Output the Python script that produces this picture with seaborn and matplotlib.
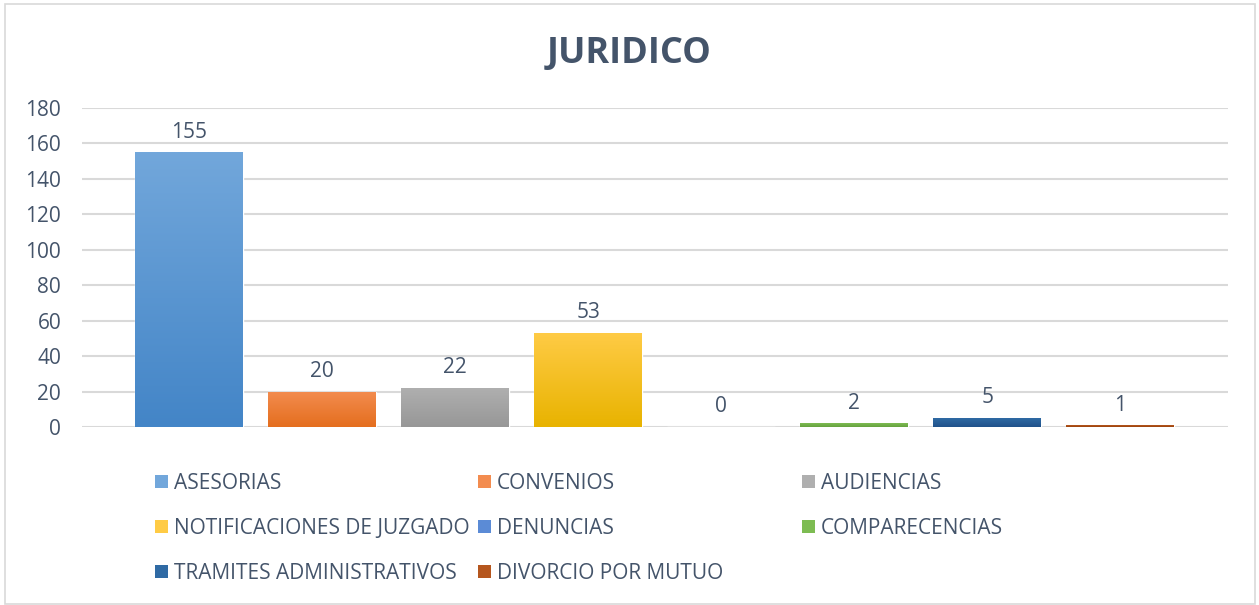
import numpy as np
import pandas as pd
import matplotlib
matplotlib.use("Agg")
import matplotlib.pyplot as plt
import matplotlib.colors as mcolors
from matplotlib.patches import Patch, Rectangle
import seaborn as sns

categories = ["ASESORIAS", "CONVENIOS", "AUDIENCIAS", "NOTIFICACIONES DE JUZGADO",
              "DENUNCIAS", "COMPARECENCIAS", "TRAMITES ADMINISTRATIVOS", "DIVORCIO POR MUTUO"]
values = [155, 20, 22, 53, 0, 2, 5, 1]
yticks = [0, 20, 40, 60, 80, 100, 120, 140, 160, 180]
title = "JURIDICO"

top_colors = ["#72A7DB", "#F38C4F", "#AFAFAF", "#FFCB45", "#5B8BD6", "#7DBC52", "#2F6AA4", "#B5561E"]
bottom_colors = ["#4385C7", "#E46E1E", "#979797", "#E8B300", "#3C68B8", "#66A13F", "#20528A", "#9B430D"]

sns.set_theme(style="white")
plt.rcParams["font.family"] = ["Open Sans", "DejaVu Sans"]
text_color = "#44546A"

df = pd.DataFrame({"cat": categories, "val": values})

fig = plt.figure(figsize=(12.59, 6.05), dpi=100)
ax = fig.add_axes([82 / 1259, 1 - 427 / 605, (1228 - 82) / 1259, (427 - 108) / 605])

palette = dict(zip(categories, bottom_colors))
sns.barplot(data=df, x="cat", y="val", hue="cat", order=categories, hue_order=categories,
            palette=palette, dodge=False, width=0.81, legend=False, ax=ax, saturation=1)

ax.set_xticks([])
ax.set_xlabel("")
ax.set_ylabel("")
for s in ax.spines.values():
    s.set_visible(False)
ax.yaxis.grid(True, color="#D9D9D9", linewidth=1.5)
ax.set_axisbelow(True)
ax.tick_params(axis="y", labelsize=15, colors=text_color, pad=15, length=0)

# gradient fills clipped to bars
grad = np.linspace(0, 1, 256).reshape(-1, 1)
for cont, tc, bc in zip(ax.containers, top_colors, bottom_colors):
    cmap = mcolors.LinearSegmentedColormap.from_list("g", [bc, tc])
    for p in cont.patches:
        x0, y0 = p.get_x(), p.get_y()
        w, h = p.get_width(), p.get_height()
        if h <= 0:
            continue
        im = ax.imshow(grad, cmap=cmap, origin="lower", aspect="auto",
                       extent=(x0, x0 + w, y0, y0 + h), zorder=p.get_zorder() + 0.1)
        im.set_clip_path(p)
    ax.bar_label(cont, labels=[str(v) for v in cont.datavalues.astype(int)],
                 padding=7, fontsize=15, color=text_color)
ax.set_xlim(-0.805, 7.81)
ax.set_ylim(0, 180)
ax.set_yticks(yticks)

fig.text(0.5, 1 - 54 / 605, title, ha="center", va="center", fontsize=26,
         fontweight="bold", color=text_color)

# legend in three columns
handles = [Patch(facecolor=c, edgecolor="none") for c in top_colors]
cols = [[0, 3, 6], [1, 4, 7], [2, 5]]
xs = [155, 478, 802]
for col, x in zip(cols, xs):
    leg = fig.legend([handles[i] for i in col], [categories[i] for i in col],
                     loc="upper left", bbox_to_anchor=(x / 1259, 1 - 473 / 605),
                     frameon=False, fontsize=15, handlelength=0.62, handleheight=0.62,
                     handletextpad=0.28, labelspacing=1.15, borderpad=0, borderaxespad=0)
    for t in leg.get_texts():
        t.set_color(text_color)

fig.patches.append(Rectangle((5 / 1259, 1 / 605), 1250 / 1259, 600 / 605,
                             transform=fig.transFigure, fill=False,
                             edgecolor="#D9D9D9", linewidth=1.2))

fig.savefig("out.png", dpi=100)
